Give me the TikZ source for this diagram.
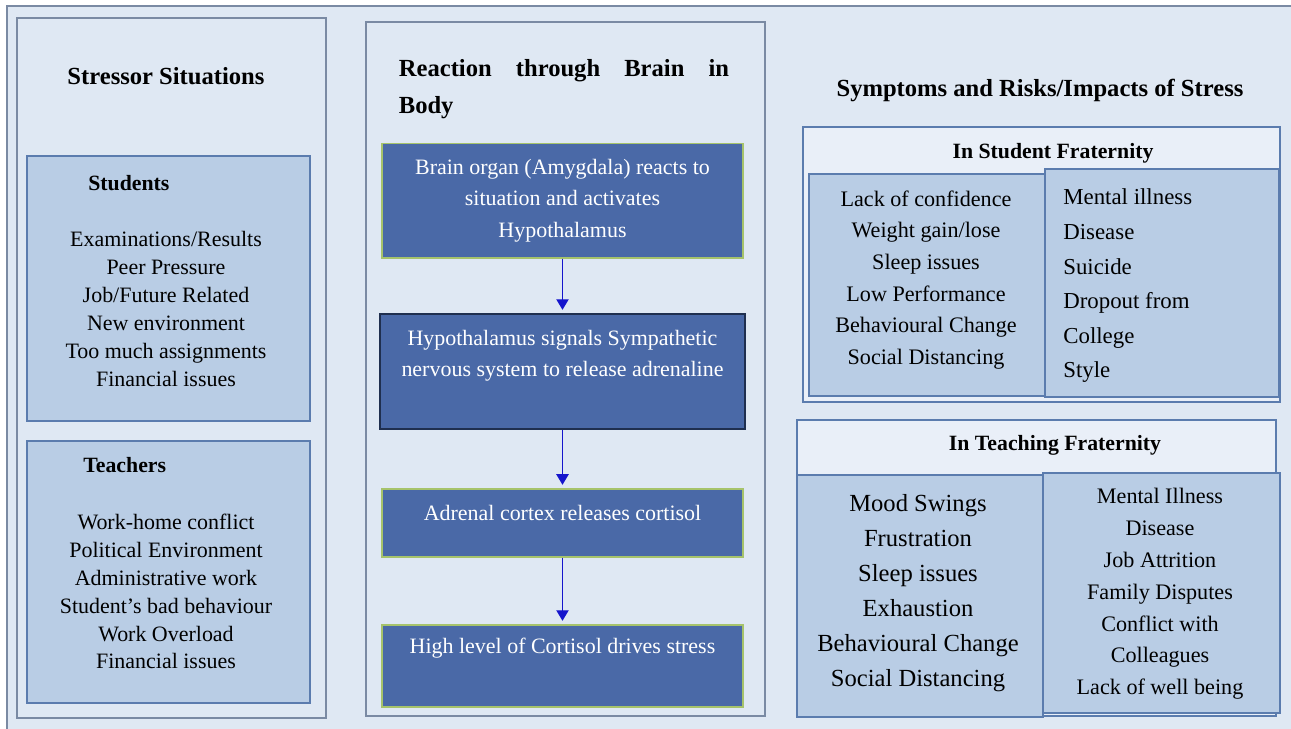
\documentclass[tikz,border=0pt]{standalone}
\usepackage{fontspec}
\setmainfont{Liberation Serif}
\usetikzlibrary{arrows.meta}

\definecolor{pagebg}{HTML}{DFE8F3}
\definecolor{framecol}{HTML}{7A8AA3}
\definecolor{midfill}{HTML}{B9CDE5}
\definecolor{midline}{HTML}{5B7CAE}
\definecolor{headfill}{HTML}{E9EFF8}
\definecolor{darkfill}{HTML}{4A69A7}
\definecolor{greenline}{HTML}{A6C36B}
\definecolor{navyline}{HTML}{1F2F4F}
\definecolor{arrowcol}{HTML}{1515CC}

\begin{document}
\begin{tikzpicture}[x=0.02cm, y=-0.02cm,
    panel/.style={draw=framecol, line width=0.9pt, fill=pagebg},
    midbox/.style={draw=midline, line width=0.9pt, fill=midfill},
    headbox/.style={draw=midline, line width=0.9pt, fill=headfill},
    darkbox/.style={draw=greenline, line width=0.8pt, fill=darkfill, inner sep=0pt},
    title/.style={font=\fontsize{14}{21}\selectfont\bfseries, inner sep=0pt},
    subtitle/.style={font=\fontsize{12.4}{15}\selectfont\bfseries, inner sep=0pt},
    items/.style={font=\fontsize{12.5}{15.9}\selectfont, align=center, inner sep=0pt},
    whitetext/.style={font=\fontsize{12.5}{17.9}\selectfont, text=white, align=center, inner sep=0pt},
    flow/.style={-{Triangle[width=7pt,length=6pt]}, draw=arrowcol, line width=0.8pt, shorten >=2pt}]
      % page
      \fill[white] (0,0) rectangle (1291,729);
      \useasboundingbox (0,0) rectangle (1291,729);
      \fill[pagebg] (7,6) rectangle (1291,729);
      \draw[framecol, line width=0.9pt] (7,729) -- (7,6) -- (1291,6);

      % stressors
      \draw[panel] (17,18) rectangle (326,718);
      \node[title] (stressor) at (166,76) {Stressor Situations};

      \draw[midbox] (27,156) rectangle (310,421);
      \node[subtitle, anchor=west] (students) at (88,183) {Students};
      \node[items] (studentlist) at (166,309) {Examinations/Results\\Peer Pressure\\Job/Future Related\\New environment\\Too much assignments\\Financial issues};

      \draw[midbox] (27,441) rectangle (310,703);
      \node[subtitle, anchor=west] (teachers) at (83,465) {Teachers};
      \node[items] (teacherlist) at (166,591.5) {Work-home conflict\\Political Environment\\Administrative work\\Student's bad behaviour\\Work Overload\\Financial issues};

      % reaction
      \draw[panel] (366,22) rectangle (765,716);
      \node[title, align=left] (reaction) at (564,89.5) {\makebox[188pt][s]{Reaction through Brain in}\\Body};

      \node[darkbox, minimum width=7.22cm, minimum height=2.29cm] (b1) at (562.5,200.75) {};
      \node[whitetext] (t1) at (562.5,200.5) {Brain organ (Amygdala) reacts to\\situation and activates\\Hypothalamus};

      \node[darkbox, draw=navyline, minimum width=7.3cm, minimum height=2.3cm] (b2) at (562.5,371.5) {};
      \node[whitetext] (t2) at (562.5,356) {Hypothalamus signals Sympathetic\\nervous system to release adrenaline};

      \node[darkbox, minimum width=7.22cm, minimum height=1.36cm] (b3) at (562.5,523) {};
      \node[whitetext] (t3) at (562.5,513) {Adrenal cortex releases cortisol};

      \node[darkbox, minimum width=7.22cm, minimum height=1.64cm] (b4) at (562.5,666) {};
      \node[whitetext] (t4) at (562.5,648) {High level of Cortisol drives stress};

      \draw[flow] (b1.south) -- (b2.north);
      \draw[flow] (b2.south) -- (b3.north);
      \draw[flow] (b3.south) -- (b4.north);

      % symptoms
      \node[title] (symptoms) at (1040,90) {Symptoms and Risks/Impacts of Stress};

      \draw[headbox] (803,127) rectangle (1280,402);
      \node[subtitle] (studfrat) at (1053,153) {In Student Fraternity};
      \draw[midbox] (809,174) rectangle (1045,396);
      \draw[midbox] (1045,169) rectangle (1279,397);
      \node[items, font=\fontsize{12.6}{18}\selectfont] (studsymp) at (926,280) {Lack of confidence\\Weight gain/lose\\Sleep issues\\Low Performance\\Behavioural Change\\Social Distancing};
      \node[items, align=left, anchor=west, font=\fontsize{13}{19.7}\selectfont] (studrisk) at (1063,286) {Mental illness\\Disease\\Suicide\\Dropout from\\College\\Style};

      \draw[headbox] (797,420) rectangle (1276,716);
      \node[subtitle] (teachfrat) at (1055,445) {In Teaching Fraternity};
      \draw[midbox] (797,475) rectangle (1043,717);
      \draw[midbox] (1043,473) rectangle (1280,713);
      \node[items, font=\fontsize{14}{20}\selectfont] (teachsymp) at (918,593) {Mood Swings\\Frustration\\Sleep issues\\Exhaustion\\Behavioural Change\\Social Distancing};
      \node[items, font=\fontsize{12.6}{18.1}\selectfont] (teachrisk) at (1160,594) {Mental Illness\\Disease\\Job Attrition\\Family Disputes\\Conflict with\\Colleagues\\Lack of well being};
\end{tikzpicture}
\end{document}
